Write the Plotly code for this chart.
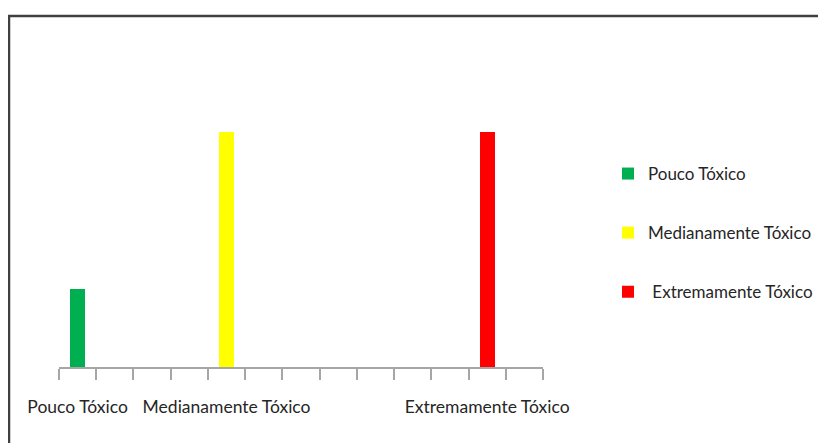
import plotly.graph_objects as go

# Data
categories = ["Pouco Tóxico", "Medianamente Tóxico", "Extremamente Tóxico"]
legend_names = ["Pouco Tóxico", "Medianamente Tóxico", " Extremamente Tóxico"]
slots = [0, 4, 11]          # category slot on a 13-slot axis
values = [1, 3, 3]
colors = ["#00B050", "#FFFF00", "#FF0000"]
n_slots = 13

FONT = "Lato, sans-serif"
TXT = "#262626"

W, H = 818, 435
ml, mr, mt, mb = 51, 283, 32, 76
pw = W - ml - mr
ph = H - mt - mb

fig = go.Figure()
for name, lname, s, v, c in zip(categories, legend_names, slots, values, colors):
    fig.add_trace(go.Bar(
        x=[s + 0.5], y=[v], name=lname, marker=dict(color=c, line=dict(width=0)),
        width=0.4, legendgroup=name,
    ))

centers = [s + 0.5 for s in slots]
fig.update_layout(
    width=W, height=H,
    margin=dict(l=ml, r=mr, t=mt, b=mb, autoexpand=False),
    paper_bgcolor="white", plot_bgcolor="white",
    font=dict(family=FONT, color=TXT, size=17),
    showlegend=True,
    legend=dict(
        x=(600 - ml) / pw, xanchor="left",
        y=(H - mb - 148) / ph, yanchor="top",
        traceorder="grouped", tracegroupgap=34,
        font=dict(family=FONT, size=17, color=TXT),
        bgcolor="rgba(0,0,0,0)",
    ),
    xaxis=dict(
        range=[0, n_slots], tickmode="array", tickvals=centers, ticktext=categories,
        ticks="", showgrid=False, zeroline=False, tickangle=0, automargin=False,
        showline=True, linecolor="#A6A6A6", linewidth=2,
        ticklabelstandoff=23,
        tickfont=dict(family=FONT, size=17.5, color=TXT),
        minor=dict(tickmode="linear", tick0=0, dtick=1, ticks="outside",
                   ticklen=11, tickcolor="#A6A6A6", tickwidth=1.5, showgrid=False),
        fixedrange=True,
    ),
    yaxis=dict(range=[0, 3 * ph / 235], visible=False, showgrid=False,
               fixedrange=True, automargin=False),
    bargap=0,
)

# outer frame (top and left border visible, rest clipped)
fig.add_shape(
    type="rect", xref="paper", yref="paper",
    x0=(1 - ml) / pw, x1=(W + 20 - ml) / pw,
    y0=(H - mb - (H + 20)) / ph, y1=(H - mb - 8) / ph,
    line=dict(color="#404040", width=2.5), fillcolor="rgba(0,0,0,0)", layer="below",
)

fig.write_html("out.html")
